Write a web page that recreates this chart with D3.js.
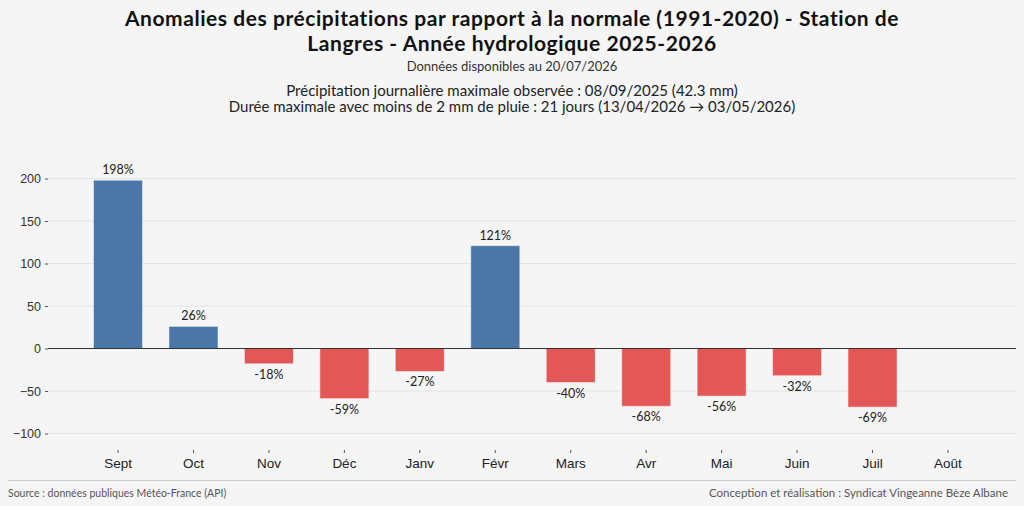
<!DOCTYPE html>
<html>
<head>
<meta charset="utf-8">
<script src="https://cdn.jsdelivr.net/npm/d3@7"></script>
<style>
    body { margin: 0; background: #f5f5f5; }
    svg { display: block; font-family: "Lato", "DejaVu Sans", sans-serif; }
</style>
</head>
<body>
<svg id="chart" width="1024" height="506"></svg>
<script>
// Données : anomalies mensuelles (%) par rapport à la normale 1991-2020
const months = ["Sept", "Oct", "Nov", "Déc", "Janv", "Févr", "Mars", "Avr", "Mai", "Juin", "Juil", "Août"];
const anomalies = [198, 26, -18, -59, -27, 121, -40, -68, -56, -32, -69, null];
const yTicks = [-100, -50, 0, 50, 100, 150, 200];

const titleLines = [
    "Anomalies des précipitations par rapport à la normale (1991-2020) - Station de",
    "Langres - Année hydrologique 2025-2026"
];
const subtitle = "Données disponibles au 20/07/2026";
const infoLines = [
    "Précipitation journalière maximale observée : 08/09/2025 (42.3 mm)",
    "Durée maximale avec moins de 2 mm de pluie : 21 jours (13/04/2026 → 03/05/2026)"
];

const svg = d3.select("#chart");
const width = 1024;

// Scales
let x = d3.scaleBand()
    .domain(months)
    .range([80.3, 985.7])
    .paddingInner(0.35)
    .paddingOuter(0.175);

let y = d3.scaleLinear()
    .domain([-120, 230])
    .range([450.5, 153]);

const plotLeft = 48, plotRight = 1016;

// Gridlines
svg.append("g")
    .selectAll("line")
    .data(yTicks.filter(d => d !== 0))
    .enter()
    .append("line")
    .attr("x1", plotLeft)
    .attr("x2", plotRight)
    .attr("y1", d => y(d))
    .attr("y2", d => y(d))
    .attr("stroke", "#e4e4e4")
    .attr("stroke-width", 1);

// Y axis
let yAxis = svg.append("g")
    .attr("transform", "translate(" + plotLeft + ",0)")
    .call(d3.axisLeft(y).tickValues(yTicks).tickSize(3).tickPadding(4));
yAxis.select(".domain").remove();
yAxis.selectAll("text").attr("font-size", 12.5).attr("fill", "#333");
yAxis.selectAll("line").attr("stroke", "#555");

// X axis
let xAxis = svg.append("g")
    .attr("transform", "translate(0,450)")
    .call(d3.axisBottom(x).tickSize(3).tickPadding(5));
xAxis.select(".domain").remove();
xAxis.selectAll("text").attr("font-size", 13.5).attr("fill", "#222");
xAxis.selectAll("line").attr("stroke", "#555");

// Bars
let barData = months.map((m, i) => ({month: m, value: anomalies[i]})).filter(d => d.value !== null);

svg.append("g")
    .selectAll("rect")
    .data(barData)
    .enter()
    .append("rect")
    .attr("x", d => x(d.month))
    .attr("width", x.bandwidth())
    .attr("y", d => y(Math.max(0, d.value)))
    .attr("height", d => Math.abs(y(d.value) - y(0)))
    .attr("fill", d => d.value >= 0 ? "#4a76a8" : "#e45757")
    .attr("stroke", "#ffffff")
    .attr("stroke-opacity", 0.5)
    .attr("stroke-width", 1);

// Zero line
svg.append("line")
    .attr("x1", plotLeft)
    .attr("x2", plotRight)
    .attr("y1", y(0))
    .attr("y2", y(0))
    .attr("stroke", "#333")
    .attr("stroke-width", 1.2);

// Bar labels
svg.append("g")
    .selectAll("text")
    .data(barData)
    .enter()
    .append("text")
    .attr("x", d => x(d.month) + x.bandwidth() / 2)
    .attr("y", d => d.value >= 0 ? y(d.value) - 6 : y(d.value) + 15)
    .attr("text-anchor", "middle")
    .attr("font-size", 12.5)
    .attr("fill", "#222")
    .text(d => d.value + "%");

// Titles
svg.append("g")
    .selectAll("text")
    .data(titleLines)
    .enter()
    .append("text")
    .attr("x", width / 2)
    .attr("y", (d, i) => 26 + i * 25)
    .attr("text-anchor", "middle")
    .attr("font-size", 21)
    .attr("letter-spacing", 0.55)
    .attr("font-weight", "bold")
    .attr("fill", "#111")
    .text(d => d);

svg.append("text")
    .attr("x", width / 2)
    .attr("y", 71)
    .attr("text-anchor", "middle")
    .attr("font-size", 13)
    .attr("fill", "#333")
    .text(subtitle);

svg.append("g")
    .selectAll("text")
    .data(infoLines)
    .enter()
    .append("text")
    .attr("x", width / 2)
    .attr("y", (d, i) => 96 + i * 16)
    .attr("text-anchor", "middle")
    .attr("font-size", 15)
    .attr("fill", "#222")
    .text(d => d);

// Footer
svg.append("line")
    .attr("x1", 8)
    .attr("x2", 1016)
    .attr("y1", 480.5)
    .attr("y2", 480.5)
    .attr("stroke", "#ccc");

svg.append("text")
    .attr("x", 8)
    .attr("y", 497)
    .attr("font-size", 10.5)
    .attr("fill", "#555")
    .text("Source : données publiques Météo-France (API)");

svg.append("text")
    .attr("x", 1008)
    .attr("y", 497)
    .attr("text-anchor", "end")
    .attr("font-size", 11.5)
    .attr("fill", "#555")
    .text("Conception et réalisation : Syndicat Vingeanne Bèze Albane");
</script>
</body>
</html>
